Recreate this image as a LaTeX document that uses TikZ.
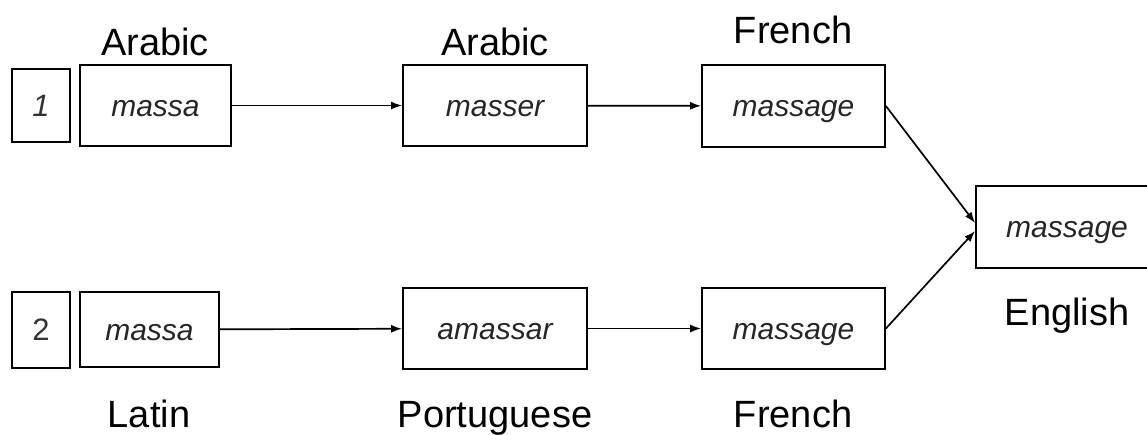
\documentclass[tikz,border=0pt]{standalone}
\usepackage{fontspec}
\setmainfont{Liberation Sans}
\usepackage{tikz}
\usetikzlibrary{arrows.meta}
\tikzstyle{word} = [rectangle, draw=black, line width=1.8pt, inner sep=0pt, text height=24pt, text depth=3pt, text=black!85, font=\fontsize{30}{32}\selectfont\itshape]
\tikzstyle{num} = [rectangle, draw=black, line width=1.8pt, inner sep=0pt, minimum width=58pt, text=black!80, font=\fontsize{31}{33}\selectfont]
\tikzstyle{lang} = [anchor=base, inner sep=0pt, font=\fontsize{38}{40}\selectfont]
\tikzstyle{arrow} = [line width=1.7pt, -{Latex[length=11pt, width=8pt]}]

\begin{document}
\begin{tikzpicture}[x=1pt, y=-1pt]
\useasboundingbox (0,0) rectangle (1147,434);

% route 1
\node (one) [num, minimum height=73pt] at (41,105.5)
	{\itshape 1};
\node (arab) [word, minimum width=151pt, minimum height=81pt] at (155.5,105.5)
	{massa};
\node (masser) [word, minimum width=184pt, minimum height=81pt] at (495,105.5)
	{masser};
\node (fra) [word, minimum width=183pt, minimum height=82pt] at (793.5,106)
	{massage};

% route 2
\node (two) [num, minimum height=76pt] at (41,330)
	{2};
\node (lat) [word, minimum width=139pt, minimum height=75pt] at (149.5,329.5)
	{massa};
\node (amassar) [word, minimum width=184pt, minimum height=81pt] at (495,328.5)
	{amassar};
\node (frb) [word, minimum width=183pt, minimum height=81pt] at (793.5,328.5)
	{massage};

\node (eng) [word, minimum width=182pt, minimum height=82pt] at (1067,227)
	{massage};

% languages
\node (larab) [lang] at (155,55) {Arabic};
\node (lmasser) [lang] at (495,55) {Arabic};
\node (lfra) [lang] at (793,43) {French};
\node (leng) [lang] at (1067,325) {English};
\node (llat) [lang] at (149,427) {Latin};
\node (lamassar) [lang] at (495,427) {Portuguese};
\node (lfrb) [lang] at (793,427) {French};

\draw [arrow] (arab) -- (masser);
\draw [arrow] (masser) -- (fra);
\draw [arrow] (lat) -- (amassar);
\draw [arrow] (amassar) -- (frb);
\draw [arrow] (fra.east) -- ([yshift=4pt]eng.west);
\draw [arrow] (frb.east) -- ([yshift=-4pt]eng.west);

\end{tikzpicture}
\end{document}
